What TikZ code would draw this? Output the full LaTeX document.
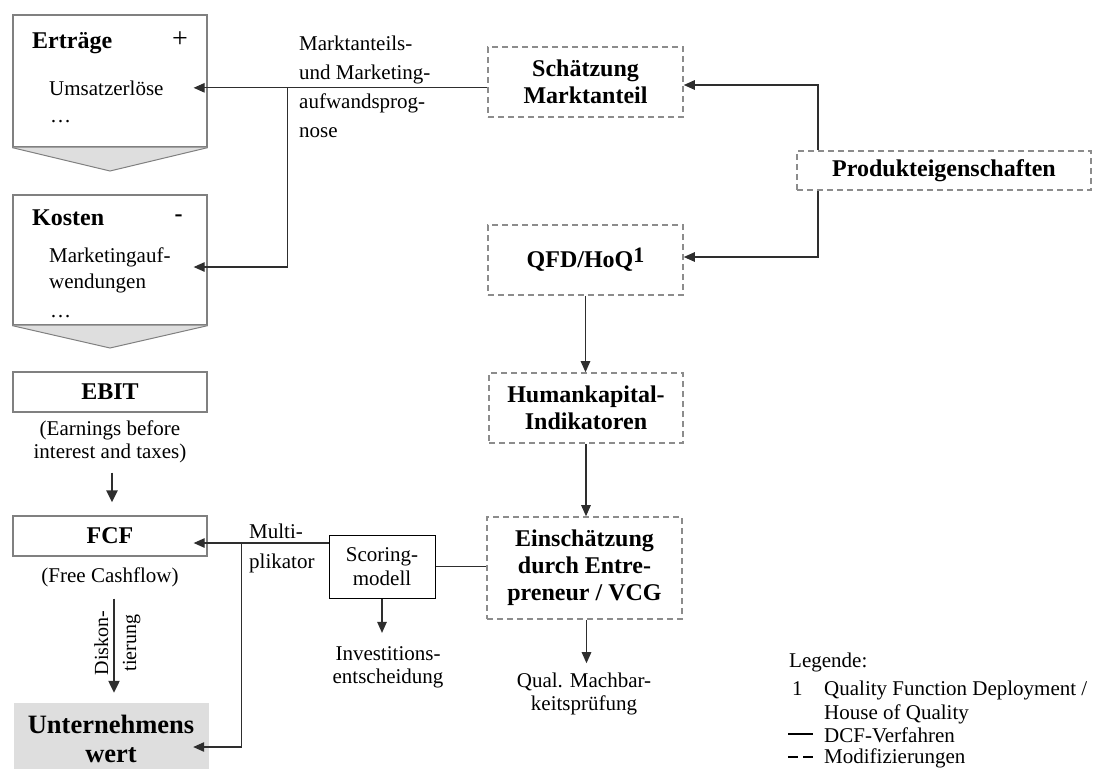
\documentclass[tikz,border=0pt]{standalone}
\usepackage{fontspec}
\setmainfont{Liberation Serif}
\usetikzlibrary{arrows.meta,calc}
\definecolor{boxgray}{HTML}{808080}
\definecolor{dashgray}{HTML}{8C8C8C}
\definecolor{fillgray}{HTML}{DEDEDE}
\definecolor{linecol}{HTML}{2E2E2E}
\newcommand\regtxt{\fontsize{21}{24}\selectfont}
\newcommand\boldtxt{\fontsize{24}{26.5}\selectfont\bfseries}
\begin{document}
\begin{tikzpicture}[x=1pt,y=-1pt,
  sbox/.style={draw=boxgray, line width=1.3pt, fill=white, inner sep=0pt},
  dbox/.style={draw=dashgray, line width=1.6pt, dash pattern=on 6pt off 4pt, fill=white, inner sep=0pt, font=\boldtxt, align=center},
  scbox/.style={draw=black, line width=1pt, inner sep=0pt, font=\fontsize{21}{24}\selectfont, align=center},
  conn/.style={draw=linecol, line width=1.1pt},
  arr/.style={conn, -{Triangle[length=11pt,width=9.5pt]}},
  bigarr/.style={draw=linecol, line width=2.2pt, -{Triangle[length=12pt,width=11pt]}},
  lbl/.style={font=\regtxt, inner sep=0pt},
  blbl/.style={font=\boldtxt, inner sep=0pt},
  chev/.style={fill=fillgray, draw=boxgray, line width=1pt},
]
\useasboundingbox (0,0) rectangle (1094,769);

% ---------- left column ----------
\node[sbox, minimum width=194pt, minimum height=132pt] (ert) at (110,81) {};
\draw[chev] (ert.south west) -- (110,171) -- (ert.south east);
\node[blbl, anchor=base west] (ertl) at (32,48) {Erträge};
\node[lbl, font=\fontsize{28}{28}\selectfont] (plus) at (180,40) {+};
\node[lbl, anchor=base west] (umsatz) at (49,95) {Umsatzerlöse};
\node[lbl, anchor=base west] (dots1) at (50,122) {…};

\node[sbox, minimum width=194pt, minimum height=130pt] (kost) at (110,260) {};
\draw[chev] (kost.south west) -- (110,348) -- (kost.south east);
\node[blbl, anchor=base west] (kostl) at (32,225) {Kosten};
\node[blbl] (minus) at (178.5,218) {-};
\node[lbl, anchor=base west] (mkt) at (49,262) {Marketingauf-};
\node[lbl, anchor=base west] (wend) at (49,288) {wendungen};
\node[lbl, anchor=base west] (dots2) at (50,317) {…};

\node[sbox, minimum width=194pt, minimum height=40pt, font=\boldtxt] (ebit) at (110,392) {EBIT};
\node[lbl, align=center, anchor=base, font=\fontsize{21}{23}\selectfont] (earn) at (110,458) {(Earnings before\\interest and taxes)};

\node[sbox, minimum width=194pt, minimum height=40pt, font=\boldtxt] (fcf) at (110,536) {FCF};
\node[lbl, anchor=base] (cash) at (110,582) {(Free Cashflow)};

\node[fill=fillgray, minimum width=195pt, minimum height=66pt, inner sep=0pt] (untw) at (111.5,736) {};
\node[inner sep=0pt, font=\fontsize{26.5}{29}\selectfont\bfseries, align=center, anchor=base] (untwl) at (111,762) {Unternehmens\\wert};

\draw[bigarr, shorten <=10pt, shorten >=13pt] ([xshift=2pt]earn.south) -- ([xshift=2pt]fcf.north);
\draw[bigarr, shorten <=12pt, shorten >=10pt] ([xshift=4pt]cash.south) -- ([xshift=4pt]cash.south |- untw.north);
\node[inner sep=0pt, font=\fontsize{20}{22}\selectfont, rotate=90, anchor=base] (disk1) at (108,643) {Diskon-};
\node[inner sep=0pt, font=\fontsize{20}{22}\selectfont, rotate=90, anchor=base] (disk2) at (136,643) {tierung};

% ---------- middle ----------
\node[lbl, align=left, anchor=base west, font=\fontsize{21}{29}\selectfont] (mlab) at (299,137) {Marktanteils-\\und Marketing-\\aufwandsprog-\\nose};
\node[lbl, align=left, anchor=base west, font=\fontsize{21}{30}\selectfont] (mult) at (249,568) {Multi-\\plikator};
\node[scbox, minimum width=106pt, minimum height=63pt] (scor) at (382,566.5) {Scoring-\\modell};
\node[lbl, align=center, anchor=base, font=\fontsize{21}{23}\selectfont] (inv) at (388,683) {Investitions-\\entscheidung};

% ---------- right column ----------
\node[dbox, minimum width=195pt, minimum height=70pt] (schaetz) at (585.5,82) {Schätzung\\Marktanteil};
\node[dbox, minimum width=195pt, minimum height=70pt] (qfd) at (585.5,260) {QFD/HoQ\raisebox{5pt}{\fontsize{22}{22}\selectfont 1}};
\node[dbox, minimum width=194pt, minimum height=70pt] (hum) at (586,408) {Humankapital-\\Indikatoren};
\node[dbox, minimum width=195pt, minimum height=102pt, font=\fontsize{24}{27}\selectfont\bfseries] (einsch) at (584.5,568) {Einschätzung\\durch Entre-\\preneur / VCG};
\node[lbl, align=center, anchor=base, font=\fontsize{21}{23}\selectfont] (qual) at (584,710) {Qual. Machbar-\\keitsprüfung};
\node[dbox, minimum width=294pt, minimum height=39pt] (prod) at (944,170.5) {Produkteigenschaften};

% ---------- connectors ----------
\coordinate (utip) at ($(ert.east |- umsatz)+(-14,0)$);
\draw[arr] (schaetz.west |- utip) -- (utip);
\coordinate (mbranch) at ($(utip)+(94,0)$);
\coordinate (mtip) at ($(kost.east)+(-14,7)$);
\draw[arr] (mbranch) |- (mtip);

\draw[arr] ([xshift=-126pt]prod.north) |- ($(schaetz.east)+(0,3)$);
\draw[arr] ([xshift=-126pt]prod.south) |- ($(qfd.east)+(0,-3)$);
\draw[arr] (qfd.south) -- (qfd.south |- hum.north);
\draw[arr] (hum.south) -- (hum.south |- einsch.north);
\draw[arr, shorten >=9pt] ([xshift=2pt]einsch.south) -- ([xshift=2pt]einsch.south |- qual.north);
\draw[conn] (scor.east) -- (scor.east -| einsch.west);
\draw[arr, shorten >=13pt] (scor.south) -- (scor.south |- inv.north);

\coordinate (ftip) at ($(fcf.east)+(-14,7)$);
\draw[arr] (scor.west |- ftip) -- (ftip);
\coordinate (fbranch) at ($(ftip)+(48,0)$);
\coordinate (utip2) at ($(untw.east)+(-16,11)$);
\draw[arr] (fbranch) |- (utip2);

% ---------- legend ----------
\node[lbl, anchor=base west] (leg) at (789,667) {Legende:};
\node[lbl, anchor=base west] (leg1) at (792,695) {1};
\node[lbl, anchor=base west] (leg1t) at (824,695) {Quality Function Deployment /};
\node[lbl, anchor=base west] (leg1u) at (824,719) {House of Quality};
\node[lbl, anchor=base west] (leg2) at (824,742) {DCF-Verfahren};
\node[lbl, anchor=base west] (leg3) at (824,763) {Modifizierungen};
\draw[draw=black, line width=1.5pt] (788,734) -- (813,734);
\draw[draw=black, line width=1.5pt, dash pattern=on 10pt off 5pt] (788,757) -- (813,757);
\end{tikzpicture}
\end{document}
